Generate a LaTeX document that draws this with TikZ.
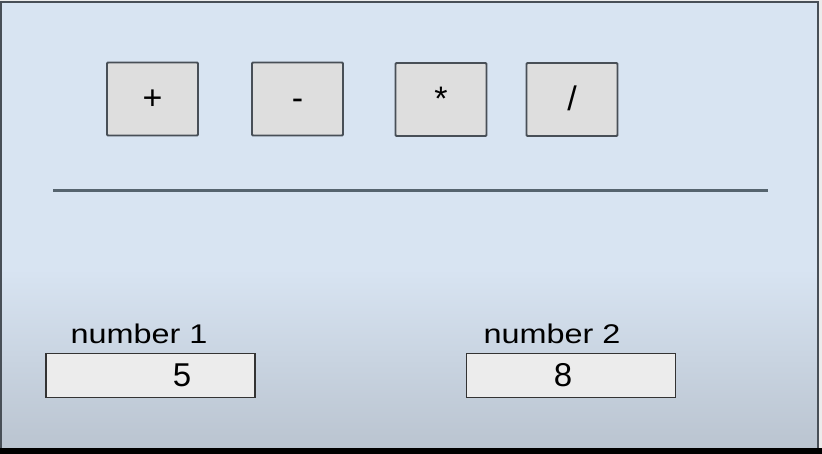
\documentclass[tikz,border=0pt]{standalone}
\usepackage{fontspec}
\setmainfont{Liberation Sans}
\newfontfamily\labelfont[FakeStretch=1.2]{Liberation Sans}
\usetikzlibrary{positioning}

\definecolor{paneltop}{HTML}{D8E4F2}
\definecolor{panelbottom}{HTML}{BAC4D0}
\definecolor{buttonfill}{HTML}{DEDEDE}
\definecolor{fieldfill}{HTML}{ECECEC}
\definecolor{framegray}{HTML}{484F57}
\definecolor{rulegray}{HTML}{56646F}

\begin{document}
\begin{tikzpicture}[x=1pt, y=-1pt]
	\tikzset{opbutton/.style={draw=framegray, line width=1.8pt, fill=buttonfill, rounded corners=1pt,
			minimum width=91pt, minimum height=73pt, inner sep=0pt, text height=22pt, text depth=0pt,
			font=\fontsize{34}{36}\selectfont},
		numfield/.style={draw=black!80, line width=1.3pt, fill=fieldfill, minimum width=209pt, minimum height=44pt, inner sep=0pt},
		numvalue/.style={inner sep=0pt, font=\fontsize{33}{36}\selectfont},
		numlabel/.style={anchor=base, inner sep=0pt, font=\labelfont\fontsize{27}{30}\selectfont}}

	% window background and frame
	\useasboundingbox (0,0) rectangle (822,454);
	\fill[white!85!gray] (0,0) rectangle (822,454);
	\fill[paneltop] (1,2) rectangle (818,270);
	\shade[top color=paneltop, bottom color=panelbottom] (1,269) rectangle (818,448);
	\draw[framegray, line width=2pt] (1,448) -- (1,2) -- (818,2) -- (818,448);
	\fill[black] (0,448) rectangle (822,454);

	% operator buttons
	\node[opbutton] (plus) at (152.5,99) {+};
	\node[opbutton] (minus) at (297.5,99) {-};
	\node[opbutton] (times) at (441,99.5) {*};
	\node[opbutton] (divide) at (572,99.5) {/};

	% separator
	\coordinate (sepl) at (53,191);
	\coordinate (sepr) at (768,191);
	\draw[rulegray, line width=3pt] (sepl) -- (sepr);

	% input fields
	\node[numlabel] (label1) at (139,344) {number 1};
	\node[numfield] (field1) at (150.5,375.5) {};
	\node[numvalue] (value1) at (182,375.5) {5};

	\node[numlabel] (label2) at (552,344) {number 2};
	\node[numfield] (field2) at (571,375.5) {};
	\node[numvalue] (value2) at (563,375.5) {8};
\end{tikzpicture}
\end{document}
